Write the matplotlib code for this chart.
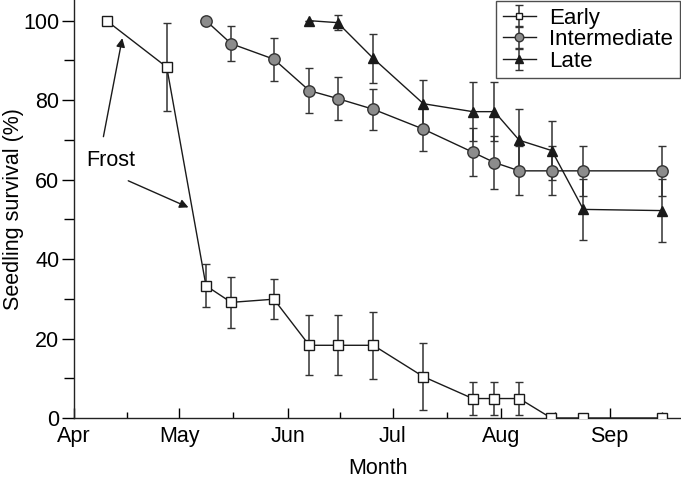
import matplotlib
matplotlib.use("Agg")
import matplotlib.pyplot as plt

plt.rcParams['font.family'] = ['Liberation Sans', 'DejaVu Sans']

# Days since 1 April
early_days = [9.3, 26.5, 37.7, 44.9, 57.1, 67.2, 75.3, 85.5, 99.8, 113.9, 120.1, 127.2, 136.3, 145.5, 167.9]
early_vals = [100, 88.3, 33.3, 29.1, 29.9, 18.3, 18.3, 18.3, 10.4, 4.9, 4.9, 4.9, 0, 0, 0]
early_err = [0, 11.0, 5.4, 6.4, 5.0, 7.5, 7.5, 8.4, 8.5, 4.2, 4.2, 4.2, 0, 0, 0]

inter_days = [37.7, 44.9, 57.1, 67.2, 75.3, 85.5, 99.8, 113.9, 120.1, 127.2, 136.5, 145.5, 167.9]
inter_vals = [100, 94.2, 90.3, 82.4, 80.4, 77.7, 72.7, 66.9, 64.3, 62.2, 62.2, 62.2, 62.2]
inter_err = [0, 4.4, 5.4, 5.7, 5.5, 5.1, 5.5, 6.1, 6.6, 6.2, 6.2, 6.3, 6.3]

late_days = [67.2, 75.3, 85.5, 99.8, 113.9, 120.1, 127.2, 136.5, 145.5, 167.9]
late_vals = [100, 99.5, 90.5, 79.1, 77.1, 77.1, 69.9, 67.3, 52.5, 52.2]
late_err = [0, 1.8, 6.2, 5.9, 7.5, 7.5, 7.9, 7.5, 7.7, 8.0]

month_ticks = [0, 30, 61, 91, 122, 153]
month_labels = ['Apr', 'May', 'Jun', 'Jul', 'Aug', 'Sep']
minor_ticks = [15, 45.5, 76, 106.5, 137.5, 168]

fs = 15.5
fig = plt.figure(figsize=(6.81, 4.82), dpi=100)
ax = fig.add_axes([74/681, 64/482, (681-74)/681, 418/482])

lc = '#1a1a1a'
common = dict(color=lc, ecolor='#333333', elinewidth=1.1, capsize=2.8, capthick=1.1, lw=1.0)
ax.errorbar(early_days, early_vals, yerr=early_err, fmt='-s', ms=6.5, mfc='white', mec=lc, mew=1.0,
            label='Early', zorder=3, **common)
ax.errorbar(inter_days, inter_vals, yerr=inter_err, fmt='-o', ms=8.2, mfc='#8c8c8c', mec='#333333', mew=1.0,
            label='Intermediate', zorder=3, **common)
ax.errorbar(late_days, late_vals, yerr=late_err, fmt='-^', ms=7.5, mfc=lc, mec=lc, mew=1.0,
            label='Late', zorder=3, **common)

ax.set_xlim(0, 173.4)
ax.set_ylim(0, 105.2)
ax.set_xticks(month_ticks)
ax.set_xticklabels(month_labels)
ax.set_xticks(minor_ticks, minor=True)
ax.set_yticks([0, 20, 40, 60, 80, 100])
ax.set_yticks([10, 30, 50, 70, 90], minor=True)

for s in ['top', 'right']:
    ax.spines[s].set_visible(False)
for s in ['left', 'bottom']:
    ax.spines[s].set_linewidth(1.0)
    ax.spines[s].set_color('#222222')

ax.tick_params(axis='x', which='major', direction='in', length=7, width=1, pad=6, labelsize=fs)
ax.tick_params(axis='x', which='minor', direction='in', length=4, width=1)
ax.tick_params(axis='y', which='major', direction='out', length=9, width=1, pad=1.5, labelsize=fs)
ax.tick_params(axis='y', which='minor', direction='out', length=7, width=1)

ax.set_xlabel('Month', fontsize=fs, labelpad=8)
ax.set_ylabel('Seedling survival (%)', fontsize=fs)
ax.yaxis.set_label_coords((24 - 74) / 607, 0.5)

leg = ax.legend(loc='upper right', bbox_to_anchor=(1.0, 1.0), borderaxespad=0.05, frameon=True,
                fancybox=False, edgecolor='#222222', fontsize=16, handlelength=1.5,
                handletextpad=0.6, labelspacing=0.02, borderpad=0.3, markerscale=0.75)
leg.get_frame().set_linewidth(1.0)

ax.text(10.5, 64.9, 'Frost', fontsize=fs, ha='center', va='center')
arrow = dict(arrowstyle='-|>', color=lc, lw=1.0, mutation_scale=13, shrinkA=0, shrinkB=0)
ax.annotate('', xy=(13.8, 95.6), xytext=(8.4, 70.8), arrowprops=arrow)
ax.annotate('', xy=(32.7, 53.0), xytext=(15.5, 59.7), arrowprops=arrow)

fig.savefig('out.png', dpi=100)
